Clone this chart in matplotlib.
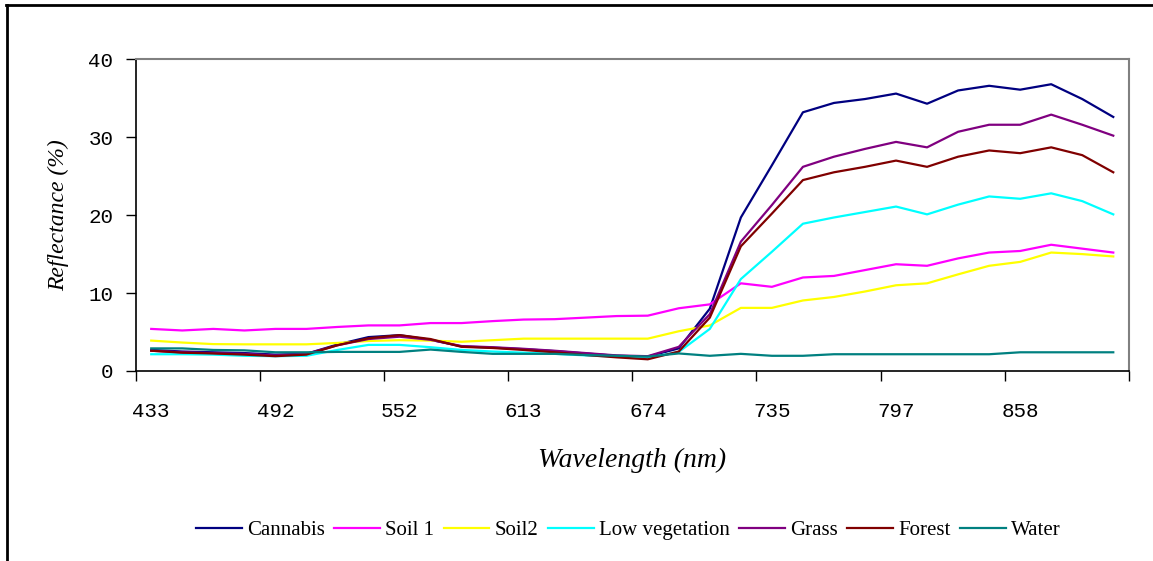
import numpy as np
import matplotlib
matplotlib.use('Agg')
import matplotlib.pyplot as plt
from matplotlib.lines import Line2D

# wavelength categories (nm), only every 4th one is labelled on the axis
wavelengths = [433, 448, 463, 477, 492, 507, 522, 537, 552, 567, 582, 598,
               613, 628, 643, 659, 674, 689, 705, 720, 735, 751, 766, 781,
               797, 812, 827, 843, 858, 873, 889, 904]

cannabis = [2.7, 2.5, 2.4, 2.3, 2.1, 2.2, 3.4, 4.35, 4.6, 4.0, 3.15, 3.0,
            2.8, 2.55, 2.25, 1.95, 1.85, 2.9, 8.0, 19.7, 26.4, 33.2, 34.4, 34.9,
            35.6, 34.3, 36.0, 36.6, 36.1, 36.8, 34.9, 32.6]
soil1 = [5.4, 5.2, 5.4, 5.2, 5.4, 5.4, 5.65, 5.85, 5.85, 6.15, 6.15, 6.4,
         6.6, 6.65, 6.85, 7.05, 7.1, 8.05, 8.55, 11.25, 10.8, 12.0, 12.2, 12.95,
         13.7, 13.5, 14.45, 15.2, 15.4, 16.2, 15.7, 15.2]
soil2 = [3.9, 3.65, 3.45, 3.42, 3.42, 3.42, 3.6, 3.85, 3.95, 3.9, 3.75, 3.95,
         4.15, 4.15, 4.15, 4.15, 4.15, 5.1, 5.85, 8.1, 8.1, 9.05, 9.5, 10.2,
         11.0, 11.25, 12.4, 13.5, 14.0, 15.2, 15.0, 14.7]
low_veg = [2.15, 2.15, 2.1, 1.95, 1.9, 1.95, 2.7, 3.35, 3.35, 3.05, 2.7, 2.5,
           2.35, 2.2, 2.0, 1.85, 1.7, 2.45, 5.4, 11.8, 15.3, 18.9, 19.7, 20.4,
           21.1, 20.1, 21.35, 22.4, 22.1, 22.8, 21.8, 20.1]
grass = [2.6, 2.4, 2.3, 2.2, 2.0, 2.2, 3.3, 4.1, 4.4, 4.0, 3.2, 3.05,
         2.85, 2.6, 2.3, 2.0, 1.9, 3.1, 7.3, 16.6, 21.3, 26.2, 27.5, 28.5,
         29.4, 28.7, 30.7, 31.6, 31.6, 32.9, 31.6, 30.2]
forest = [2.6, 2.35, 2.25, 2.1, 1.9, 2.1, 3.3, 4.2, 4.6, 4.1, 3.1, 2.95,
          2.7, 2.4, 2.05, 1.75, 1.5, 2.5, 6.85, 16.0, 20.2, 24.5, 25.5, 26.2,
          27.0, 26.2, 27.5, 28.3, 27.95, 28.7, 27.7, 25.5]
water = [2.9, 2.9, 2.7, 2.65, 2.4, 2.4, 2.45, 2.45, 2.45, 2.75, 2.45, 2.2,
         2.2, 2.2, 2.05, 1.95, 1.85, 2.25, 1.95, 2.2, 1.95, 1.95, 2.15, 2.15,
         2.15, 2.15, 2.15, 2.15, 2.4, 2.4, 2.4, 2.4]

series = [
    ('Cannabis', cannabis, '#000080'),
    ('Soil 1', soil1, '#FF00FF'),
    ('Soil2', soil2, '#FFFF00'),
    ('Low vegetation', low_veg, '#00FFFF'),
    ('Grass', grass, '#800080'),
    ('Forest', forest, '#800000'),
    ('Water', water, '#008080'),
]

fig = plt.figure(figsize=(11.53, 5.61), dpi=100)
ax = fig.add_axes([0.1177, 0.3387, 0.979 - 0.1177, 0.8943 - 0.3387])

x = np.arange(len(wavelengths))
for name, vals, col in series:
    ax.plot(x, vals, color=col, lw=1.6, label=name)

ax.set_xlim(-0.5, len(wavelengths) - 0.5)
ax.set_ylim(0, 40)
ax.set_yticks([0, 10, 20, 30, 40])

# tick marks on category boundaries, labels on every 4th category
ax.set_xticks(np.arange(-0.5, len(wavelengths), 4))
ax.set_xticklabels([])
ax.set_xticks(x[::4], minor=True)
ax.set_xticklabels([str(w) for w in wavelengths[::4]], minor=True)
ax.tick_params(axis='x', which='major', length=7, width=1, direction='out')
ax.tick_params(axis='x', which='minor', length=0, pad=22)
ax.tick_params(axis='y', length=7, width=1, pad=9)
for lab in ax.get_xticklabels(minor=True) + ax.get_yticklabels():
    lab.set_fontfamily('Liberation Mono')
    lab.set_fontsize(15)

for s in ['top', 'right']:
    ax.spines[s].set_color('#808080')
    ax.spines[s].set_linewidth(1.5)
for s in ['left', 'bottom']:
    ax.spines[s].set_color('black')
    ax.spines[s].set_linewidth(1.2)

ax.set_ylabel('Reflectance (%)', fontfamily='Liberation Serif', style='italic',
              fontsize=17, labelpad=14)
ax.set_xlabel('Wavelength (nm)', fontfamily='Liberation Serif', style='italic',
              fontsize=20, labelpad=20)

leg = fig.legend(loc='center', bbox_to_anchor=(0.545, 0.055), ncol=7,
                 frameon=False, handlelength=2.2, handletextpad=0.25,
                 columnspacing=0.45, prop={'family': 'Liberation Serif', 'size': 15})

# outer frame (top and left edges visible in the reference)
fig.add_artist(Line2D([0.005, 1.0], [0.991, 0.991], color='black', lw=2,
                      transform=fig.transFigure))
fig.add_artist(Line2D([0.006, 0.006], [0.0, 0.991], color='black', lw=2,
                      transform=fig.transFigure))

fig.savefig('out.png', dpi=100)
